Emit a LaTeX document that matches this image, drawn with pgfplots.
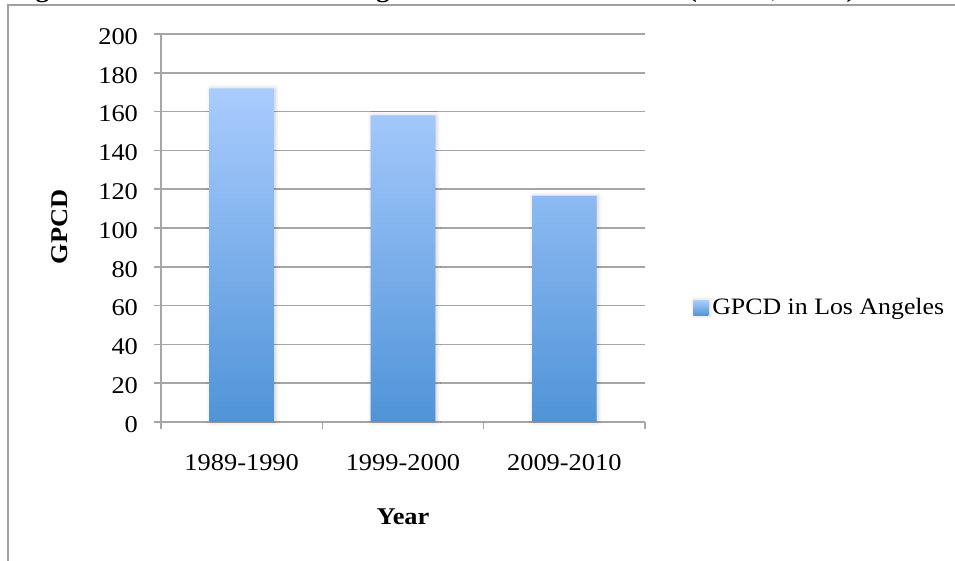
\documentclass[border=0pt]{standalone}
\usepackage{fontspec}
\setmainfont{Liberation Serif}[FakeStretch=1.1]
\usepackage{pgfplots}
\pgfplotsset{compat=1.18}
\usetikzlibrary{shadows.blur}

\definecolor{barTop}{HTML}{AACCFE}
\definecolor{barBottom}{HTML}{4F94D8}
\definecolor{gridGray}{HTML}{A6A6A6}
\definecolor{frameGray}{HTML}{A0A0A0}

\begin{document}
\begin{tikzpicture}
  % page area: 477.5pt x 280.5pt, origin at top left
  \useasboundingbox (0,0) rectangle (477.5pt,-280.5pt);
  \clip (0,0) rectangle (477.5pt,-280.5pt);

  % title of the figure, running off the top of the page
  \node[anchor=base west, inner sep=0pt, font=\bfseries\fontsize{12}{14}\selectfont]
    at (6pt,1.2pt) {Figure 2: Residential Water Usage in the Last Two Decades (GPCD, DWP)};

  % chart frame
  \draw[frameGray, line width=0.75pt] (4pt,-280.5pt) -- (4pt,-2.5pt) -- (478pt,-2.5pt);

  \begin{axis}[
    at={(80.5pt,-211pt)}, anchor=south west,
    width=242pt, height=194pt, scale only axis,
    xmin=-0.5, xmax=2.5,
    ymin=0, ymax=200,
    ytick={0,20,...,200},
    xtick={0,1,2},
    xticklabels={1989-1990,1999-2000,2009-2010},
    major x tick style={draw=none},
    minor xtick={-0.5,0.5,1.5,2.5},
    minor tick length=3.5pt,
    major tick length=3.5pt,
    tick align=outside,
    tick style={gridGray, line width=0.75pt},
    axis x line*=bottom, axis y line*=left,
    axis line style={gridGray, line width=0.75pt, -},
    ymajorgrids,
    grid style={gridGray, line width=0.75pt},
    /pgf/number format/assume math mode=true,
    ticklabel style={font=\fontsize{12}{14}\selectfont},
    yticklabel style={xshift=-4.5pt, yshift=-1.2pt},
    xticklabel style={yshift=-9pt},
    xlabel={Year},
    ylabel={GPCD},
    label style={font=\bfseries\fontsize{12}{14}\selectfont},
    xlabel style={at={(axis description cs:0.5,-0.2448)}, anchor=center},
    ylabel style={at={(axis description cs:-0.2087,0.5026)}, anchor=center},
    legend style={draw=none, fill=none, at={(1.099,0.294)}, anchor=west,
      inner sep=0pt, font=\fontsize{11.75}{13}\selectfont,
      legend cell align=left, nodes={inner sep=2pt}},
    legend image code/.code={
      \shade[top color=barTop, bottom color=barBottom]
        (0pt,-3.75pt) rectangle (7.5pt,3.75pt);
    },
    clip=false,
  ]
    \addplot[ybar, bar width=0.4, draw=none,
      shade, top color=barTop, bottom color=barBottom,
      blur shadow={shadow xshift=0.6pt, shadow yshift=0pt,
        shadow blur radius=2pt, shadow opacity=22}]
      coordinates {(0,172) (1,158) (2,116.5)};
    \addlegendentry{GPCD in Los Angeles}
  \end{axis}
\end{tikzpicture}
\end{document}
